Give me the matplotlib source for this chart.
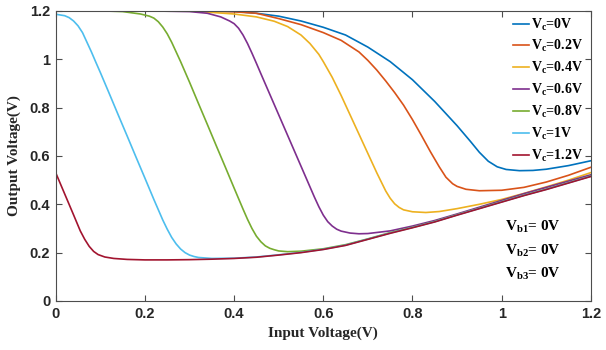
import matplotlib
matplotlib.use("Agg")
import matplotlib.pyplot as plt
from matplotlib.ticker import FuncFormatter

# Transfer curves of the inverter for several control voltages Vc
vc_labels = ["0V", "0.2V", "0.4V", "0.6V", "0.8V", "1V", "1.2V"]
colors = ["#0072BD", "#D95319", "#EDB120", "#7E2F8E", "#77AC30", "#4DBEEE", "#A2142F"]

vin_0 = [0, 0.1, 0.2, 0.3, 0.4, 0.45, 0.5, 0.55, 0.6, 0.65, 0.7, 0.75, 0.8, 0.85,
         0.9, 0.93, 0.95, 0.97, 0.99, 1.01, 1.04, 1.07, 1.1, 1.15, 1.2]
vout_0 = [1.2, 1.2, 1.2, 1.2, 1.198, 1.19, 1.178, 1.158, 1.132, 1.1, 1.05, 0.99, 0.915, 0.825,
          0.725, 0.66, 0.615, 0.578, 0.555, 0.544, 0.539, 0.54, 0.545, 0.56, 0.58]

vin_02 = [0, 0.3, 0.4, 0.45, 0.5, 0.55, 0.6, 0.64, 0.68, 0.7, 0.72, 0.74, 0.76, 0.78,
          0.8, 0.82, 0.84, 0.86, 0.875, 0.89, 0.9, 0.92, 0.95, 1.0, 1.05, 1.1, 1.15, 1.2]
vout_02 = [1.2, 1.2, 1.196, 1.19, 1.168, 1.143, 1.11, 1.078, 1.03, 0.995, 0.955, 0.91, 0.862, 0.81,
           0.75, 0.685, 0.618, 0.555, 0.512, 0.485, 0.474, 0.462, 0.456, 0.458, 0.47, 0.492, 0.52, 0.553]

vin_04 = [0, 0.3, 0.4, 0.45, 0.49, 0.52, 0.55, 0.57, 0.59, 0.6, 0.62, 0.64, 0.66, 0.68,
          0.7, 0.72, 0.74, 0.75, 0.76, 0.77, 0.78, 0.8, 0.83, 0.86, 0.9, 0.95, 1.0, 1.05,
          1.1, 1.15, 1.2]
vout_04 = [1.2, 1.2, 1.187, 1.175, 1.157, 1.135, 1.1, 1.065, 1.02, 0.99, 0.925, 0.85, 0.77, 0.69,
           0.61, 0.53, 0.455, 0.425, 0.402, 0.387, 0.377, 0.369, 0.366, 0.37, 0.382, 0.4, 0.42, 0.445,
           0.472, 0.5, 0.531]

vin_06 = [0, 0.2, 0.3, 0.34, 0.37, 0.39, 0.4, 0.41, 0.42, 0.43, 0.44, 0.45, 0.46, 0.48,
          0.5, 0.52, 0.54, 0.56, 0.58, 0.59, 0.6, 0.61, 0.62, 0.63, 0.64, 0.66, 0.68, 0.7,
          0.75, 0.8, 0.85, 0.9, 0.95, 1.0, 1.05, 1.1, 1.15, 1.2]
vout_06 = [1.2, 1.2, 1.197, 1.19, 1.175, 1.158, 1.147, 1.128, 1.1, 1.065, 1.025, 0.983, 0.94, 0.855,
           0.77, 0.685, 0.6, 0.515, 0.43, 0.39, 0.355, 0.328, 0.31, 0.297, 0.289, 0.281, 0.278, 0.279,
           0.29, 0.31, 0.333, 0.36, 0.388, 0.416, 0.444, 0.47, 0.496, 0.522]

vin_08 = [0, 0.1, 0.15, 0.19, 0.21, 0.22, 0.23, 0.24, 0.25, 0.26, 0.27, 0.28, 0.3, 0.32,
          0.34, 0.36, 0.38, 0.4, 0.42, 0.43, 0.44, 0.45, 0.46, 0.47, 0.48, 0.49, 0.5, 0.52,
          0.55, 0.6, 0.65, 0.7, 0.75, 0.8, 0.85, 0.9, 0.95, 1.0, 1.05, 1.1, 1.15, 1.2]
vout_08 = [1.2, 1.2, 1.197, 1.187, 1.178, 1.17, 1.155, 1.133, 1.105, 1.07, 1.03, 0.99, 0.905, 0.817,
           0.73, 0.642, 0.555, 0.467, 0.38, 0.338, 0.3, 0.268, 0.245, 0.228, 0.218, 0.212, 0.207, 0.204,
           0.206, 0.216, 0.233, 0.257, 0.283, 0.305, 0.329, 0.357, 0.384, 0.411, 0.438, 0.463, 0.49, 0.517]

vin_1 = [0, 0.02, 0.03, 0.04, 0.05, 0.06, 0.07, 0.08, 0.09, 0.1, 0.12, 0.14, 0.16, 0.18,
         0.2, 0.22, 0.24, 0.25, 0.26, 0.27, 0.28, 0.29, 0.3, 0.31, 0.32, 0.35, 0.4, 0.45,
         0.5, 0.55, 0.6, 0.65, 0.7, 0.75, 0.8, 0.85, 0.9, 0.95, 1.0, 1.05, 1.1, 1.15, 1.2]
vout_1 = [1.186, 1.18, 1.172, 1.158, 1.138, 1.11, 1.07, 1.03, 0.987, 0.945, 0.858, 0.77, 0.683, 0.595,
          0.508, 0.42, 0.335, 0.297, 0.263, 0.236, 0.215, 0.2, 0.19, 0.184, 0.18, 0.176, 0.177, 0.182,
          0.191, 0.201, 0.214, 0.231, 0.256, 0.281, 0.304, 0.328, 0.356, 0.383, 0.41, 0.437, 0.462, 0.489,
          0.516]

vin_12 = [0, 0.02, 0.04, 0.055, 0.065, 0.075, 0.085, 0.095, 0.11, 0.13, 0.16, 0.2, 0.25, 0.3,
          0.35, 0.4, 0.45, 0.5, 0.55, 0.6, 0.65, 0.7, 0.75, 0.8, 0.85, 0.9, 0.95, 1.0,
          1.05, 1.1, 1.15, 1.2]
vout_12 = [0.53, 0.443, 0.356, 0.29, 0.255, 0.226, 0.205, 0.192, 0.182, 0.176, 0.172, 0.17, 0.17, 0.171,
           0.173, 0.176, 0.181, 0.19, 0.2, 0.213, 0.23, 0.255, 0.28, 0.303, 0.327, 0.355, 0.382, 0.409,
           0.436, 0.461, 0.488, 0.515]

series_x = [vin_0, vin_02, vin_04, vin_06, vin_08, vin_1, vin_12]
series_y = [vout_0, vout_02, vout_04, vout_06, vout_08, vout_1, vout_12]

bias_lines = [r"$\mathrm{V_{b1}}$= 0V", r"$\mathrm{V_{b2}}$= 0V", r"$\mathrm{V_{b3}}$= 0V"]

plt.rcParams["font.family"] = "Liberation Sans"
plt.rcParams["font.weight"] = "bold"
plt.rcParams["mathtext.fontset"] = "custom"
plt.rcParams["mathtext.rm"] = "Liberation Serif:bold"
plt.rcParams["mathtext.it"] = "Liberation Serif:bold"
plt.rcParams["mathtext.bf"] = "Liberation Serif:bold"

fig = plt.figure(figsize=(6.06, 3.5), dpi=100)
ax = fig.add_axes([0.092, 0.14, 0.883, 0.829])

for xs, ys, c, lab in zip(series_x, series_y, colors, vc_labels):
    ax.plot(xs, ys, color=c, lw=1.2, label=r"$\mathrm{V_c}$=" + lab)

ax.set_xlim(0, 1.2)
ax.set_ylim(0, 1.2)
ax.set_xticks([0, 0.2, 0.4, 0.6, 0.8, 1.0, 1.2])
ax.set_yticks([0, 0.2, 0.4, 0.6, 0.8, 1.0, 1.2])
fmt = FuncFormatter(lambda v, p: f"{v:g}")
ax.xaxis.set_major_formatter(fmt)
ax.yaxis.set_major_formatter(fmt)

spine_col = "#4d4d4d"
for s in ax.spines.values():
    s.set_color(spine_col)
    s.set_linewidth(0.8)
ax.tick_params(direction="in", length=4, width=0.8, color=spine_col,
               labelcolor="#262626", labelsize=10.5, top=True, right=True, pad=4)

serif_bold = dict(family="Liberation Serif", weight="bold")
ax.set_xlabel("Input Voltage(V)", fontsize=11, color="#262626", labelpad=4, **serif_bold)
ax.set_ylabel("Output Voltage(V)", fontsize=11, color="#262626", labelpad=6, **serif_bold)

leg = ax.legend(loc="upper right", frameon=False,
                prop=dict(family="Liberation Serif", weight="bold", size=10),
                handlelength=1.1, handletextpad=0.15, labelspacing=0.42,
                borderaxespad=0.0, bbox_to_anchor=(0.995, 1.0))

for i, t in enumerate(bias_lines):
    ax.text(0.84, 0.255 - i * 0.081, t, transform=ax.transAxes,
            fontsize=11, color="black", va="center", ha="left", **serif_bold)

fig.savefig("out.png", dpi=100)
